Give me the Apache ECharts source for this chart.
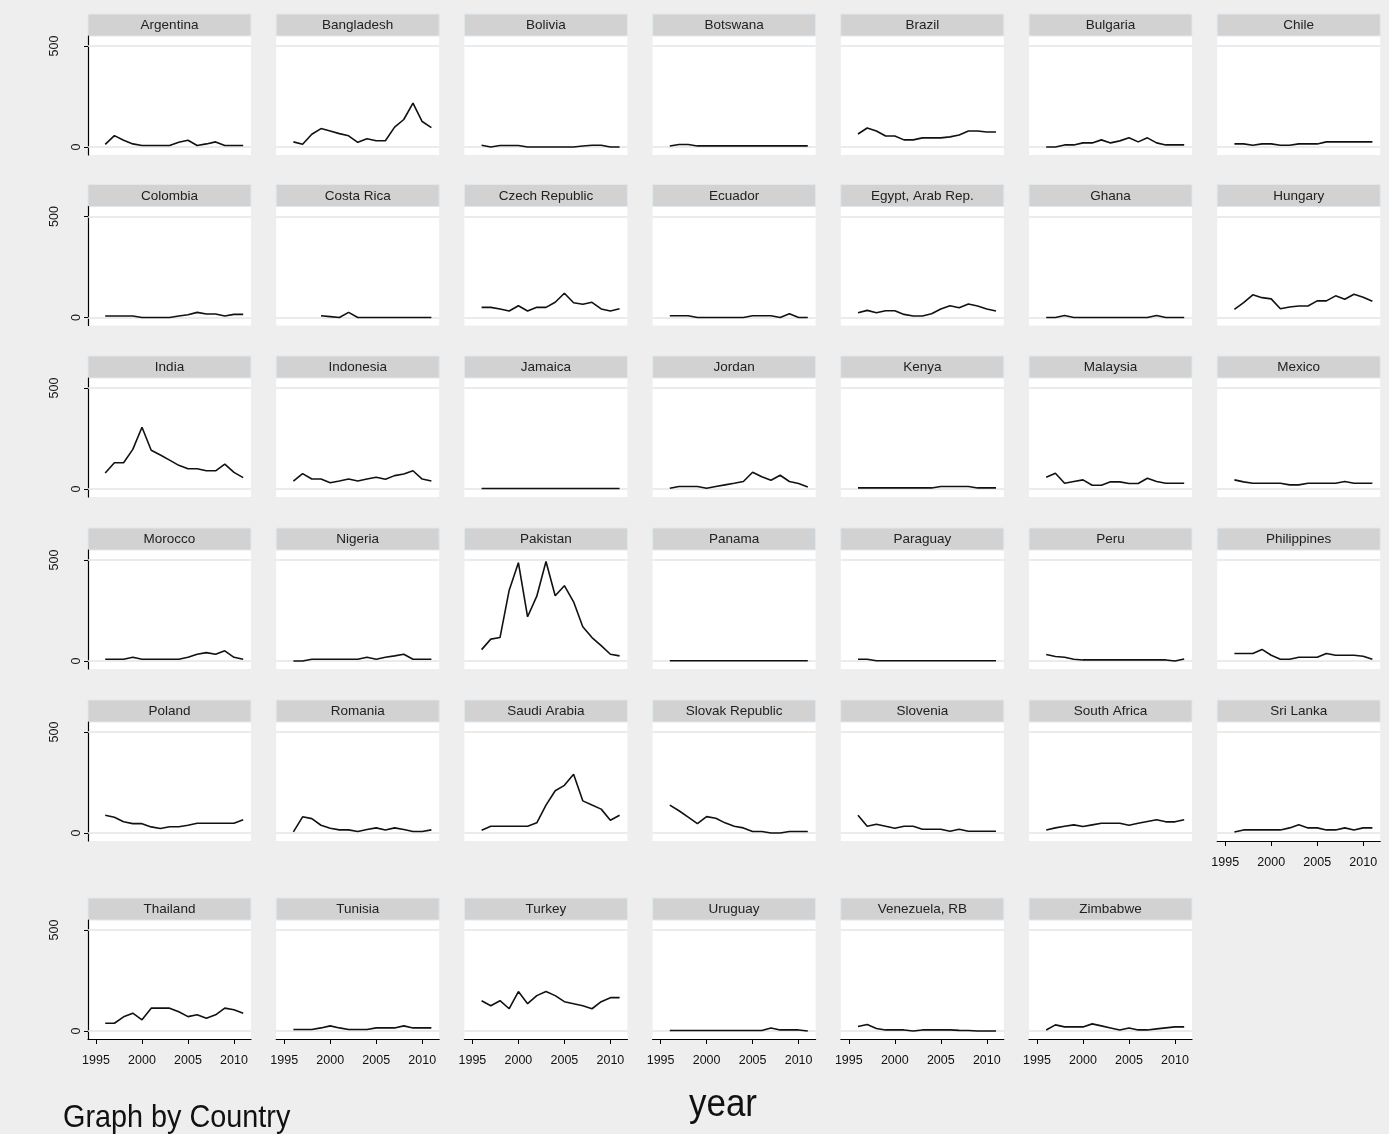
<!DOCTYPE html>
<html>
<head>
<meta charset="utf-8">
<script src="https://cdn.jsdelivr.net/npm/echarts@6/dist/echarts.min.js"></script>
<style>
  html, body { margin: 0; padding: 0; background: #eeeeee; }
  #main { width: 1389px; height: 1134px; }
</style>
</head>
<body>
<div id="main"></div>
<script>
// years on the x axis, one value per year for every country
const years = [1996, 1997, 1998, 1999, 2000, 2001, 2002, 2003, 2004, 2005, 2006, 2007, 2008, 2009, 2010, 2011];
const xTicks = [1995, 2000, 2005, 2010];
const yTicks = [0, 500];

const countries = [
  "Argentina", "Bangladesh", "Bolivia", "Botswana", "Brazil", "Bulgaria", "Chile",
  "Colombia", "Costa Rica", "Czech Republic", "Ecuador", "Egypt, Arab Rep.", "Ghana", "Hungary",
  "India", "Indonesia", "Jamaica", "Jordan", "Kenya", "Malaysia", "Mexico",
  "Morocco", "Nigeria", "Pakistan", "Panama", "Paraguay", "Peru", "Philippines",
  "Poland", "Romania", "Saudi Arabia", "Slovak Republic", "Slovenia", "South Africa", "Sri Lanka",
  "Thailand", "Tunisia", "Turkey", "Uruguay", "Venezuela, RB", "Zimbabwe"
];

const argentina = [13, 56, 33, 15, 7, 7, 7, 7, 23, 33, 7, 15, 25, 7, 7, 7];
const bangladesh = [25, 13, 63, 91, 79, 66, 55, 23, 41, 31, 31, 98, 136, 217, 126, 96];
const bolivia = [8, 0, 7, 7, 7, 0, 0, 0, 0, 0, 0, 5, 8, 8, 0, 0];
const botswana = [5, 12, 12, 5, 5, 5, 5, 5, 5, 5, 5, 5, 5, 5, 5, 5];
const brazil = [64, 94, 79, 54, 54, 35, 35, 45, 45, 45, 50, 59, 79, 79, 74, 74];
const bulgaria = [0, 0, 10, 10, 20, 20, 35, 20, 30, 45, 25, 45, 20, 10, 10, 10];
const chile = [15, 15, 8, 15, 15, 8, 8, 15, 15, 15, 25, 25, 25, 25, 25, 25];
const colombia = [7, 7, 7, 7, 0, 0, 0, 0, 7, 13, 25, 17, 17, 7, 15, 15];
const costaRica = [null, null, null, 8, 4, 0, 25, 0, 0, 0, 0, 0, 0, 0, 0, 0];
const czechRepublic = [50, 50, 42, 32, 58, 32, 50, 50, 75, 120, 73, 65, 75, 42, 32, 43];
const ecuador = [8, 8, 8, 0, 0, 0, 0, 0, 0, 8, 8, 8, 0, 18, 0, 0];
const egypt = [23, 35, 23, 33, 33, 15, 7, 7, 18, 42, 58, 48, 67, 57, 42, 32];
const ghana = [0, 0, 10, 0, 0, 0, 0, 0, 0, 0, 0, 0, 10, 0, 0, 0];
const hungary = [40, 73, 112, 98, 92, 43, 52, 57, 57, 82, 82, 107, 90, 115, 100, 80];
const india = [79, 130, 130, 196, 306, 192, 168, 143, 117, 100, 100, 90, 90, 123, 82, 56];
const indonesia = [39, 76, 49, 49, 31, 39, 49, 39, 49, 58, 48, 66, 74, 90, 49, 39];
const jamaica = [2, 2, 2, 2, 2, 2, 2, 2, 2, 2, 2, 2, 2, 2, 2, 2];
const jordan = [3, 12, 12, 12, 3, 12, 20, 28, 37, 83, 60, 43, 68, 37, 27, 10];
const kenya = [5, 5, 5, 5, 5, 5, 5, 5, 5, 12, 12, 12, 12, 5, 5, 5];
const malaysia = [58, 78, 28, 37, 45, 18, 18, 35, 35, 27, 27, 53, 37, 28, 28, 28];
const mexico = [45, 35, 28, 28, 28, 28, 20, 20, 28, 28, 28, 28, 37, 28, 28, 28];
const morocco = [8, 8, 8, 18, 8, 8, 8, 8, 8, 18, 33, 41, 33, 50, 18, 8];
const nigeria = [0, 0, 8, 8, 8, 8, 8, 8, 18, 8, 18, 25, 33, 8, 8, 8];
const pakistan = [56, 108, 116, 351, 487, 219, 321, 493, 323, 373, 293, 169, 116, 76, 33, 25];
const panama = [1, 1, 1, 1, 1, 1, 1, 1, 1, 1, 1, 1, 1, 1, 1, 1];
const paraguay = [8, 8, 1, 1, 1, 1, 1, 1, 1, 1, 1, 1, 1, 1, 1, 1];
const peru = [32, 22, 18, 8, 5, 5, 5, 5, 5, 5, 5, 5, 5, 5, 0, 10];
const philippines = [37, 37, 37, 57, 28, 8, 8, 18, 18, 18, 37, 28, 28, 28, 23, 8];
const poland = [88, 78, 55, 46, 46, 30, 22, 31, 31, 38, 48, 48, 48, 48, 48, 65];
const romania = [5, 80, 71, 38, 23, 15, 15, 7, 17, 25, 15, 25, 17, 7, 7, 15];
const saudiArabia = [13, 33, 33, 33, 33, 33, 50, 138, 209, 236, 291, 159, 138, 118, 63, 88];
const slovakRepublic = [138, 110, 78, 46, 81, 73, 50, 33, 25, 7, 7, 0, 0, 7, 7, 7];
const slovenia = [88, 33, 43, 33, 23, 33, 33, 18, 18, 18, 8, 18, 8, 8, 8, 8];
const southAfrica = [15, 25, 33, 40, 32, 40, 48, 48, 48, 38, 48, 57, 65, 55, 55, 65];
const sriLanka = [5, 15, 15, 15, 15, 15, 25, 40, 25, 25, 15, 15, 25, 15, 25, 25];
const thailand = [38, 38, 70, 88, 55, 113, 113, 113, 95, 71, 80, 63, 80, 113, 105, 88];
const tunisia = [7, 7, 7, 15, 25, 15, 7, 7, 7, 15, 15, 15, 25, 15, 15, 15];
const turkey = [150, 125, 150, 110, 195, 135, 175, 195, 175, 145, 135, 125, 110, 145, 165, 165];
const uruguay = [2, 2, 2, 2, 2, 2, 2, 2, 2, 2, 2, 15, 5, 5, 5, 0];
const venezuela = [22, 32, 12, 5, 5, 5, 0, 5, 5, 5, 5, 3, 2, 0, 0, 0];
const zimbabwe = [5, 30, 20, 20, 20, 35, 25, 15, 5, 15, 5, 5, 10, 15, 20, 20];

const countryValues = [
  argentina, bangladesh, bolivia, botswana, brazil, bulgaria, chile,
  colombia, costaRica, czechRepublic, ecuador, egypt, ghana, hungary,
  india, indonesia, jamaica, jordan, kenya, malaysia, mexico,
  morocco, nigeria, pakistan, panama, paraguay, peru, philippines,
  poland, romania, saudiArabia, slovakRepublic, slovenia, southAfrica, sriLanka,
  thailand, tunisia, turkey, uruguay, venezuela, zimbabwe
];

// panel layout
const font = '"Liberation Sans", Arial, sans-serif';
const panelW = 163, panelH = 119, headH = 22;
const rowTop = [36, 206.5, 378, 550, 722, 920];
const colLeft = (c) => 88 + c * 188.2;

let grids = [], xAxes = [], yAxes = [], series = [], graphics = [];

countries.forEach((name, i) => {
  const r = Math.floor(i / 7), c = i % 7;
  const left = colLeft(c), top = rowTop[r];
  const showX = i >= 34;
  const showY = c === 0;

  grids.push({
    left: left, top: top, width: panelW, height: panelH,
    show: true, backgroundColor: '#ffffff', borderWidth: 0
  });

  xAxes.push({
    gridIndex: i, type: 'value', min: 1994.13, max: 2011.85,
    axisLine: { show: showX, onZero: false, lineStyle: { color: '#000', width: 1.2 } },
    axisTick: { show: showX, customValues: xTicks, length: 5, lineStyle: { color: '#000' } },
    axisLabel: {
      show: showX, customValues: xTicks, margin: 15, fontSize: 12.5, color: '#111', fontFamily: font,
      formatter: (v) => String(v)
    },
    splitLine: { show: false }
  });

  yAxes.push({
    gridIndex: i, type: 'value', min: -40, max: 550,
    axisLine: { show: showY, onZero: false, lineStyle: { color: '#000', width: 1.2 } },
    axisTick: { show: showY, customValues: yTicks, length: 4, lineStyle: { color: '#000' } },
    axisLabel: {
      show: showY, customValues: yTicks, rotate: 90, margin: 5, color: '#111',
      fontSize: 12.5, fontFamily: font,
      formatter: (v) => (v === 500 ? '{a|500}' : '{b|0}'),
      rich: {
        a: { fontSize: 12.5, fontFamily: font, color: '#111', padding: [0, 0, 22, 0] },
        b: { fontSize: 12.5, fontFamily: font, color: '#111' }
      }
    },
    splitLine: { show: false }
  });

  const vals = countryValues[i];
  const pts = [];
  years.forEach((y, k) => { if (vals[k] !== null) pts.push([y, vals[k]]); });

  series.push({
    type: 'line', name: name, xAxisIndex: i, yAxisIndex: i,
    data: pts, symbol: 'none', z: 10,
    lineStyle: { color: '#111', width: 1.6 },
    markLine: {
      silent: true, symbol: 'none', label: { show: false },
      lineStyle: { color: '#e4e4e4', width: 1.5, type: 'solid' },
      data: yTicks.map((v) => ({ yAxis: v }))
    }
  });

  // strip header above each panel
  graphics.push({
    type: 'rect',
    shape: { x: left, y: top - headH, width: panelW, height: headH },
    style: { fill: '#d2d2d2', stroke: '#dde8f0', lineWidth: 1 }
  });
  graphics.push({
    type: 'text', x: left + panelW / 2, y: top - headH / 2 + 0.5,
    style: { text: name, font: '13.5px ' + font, fill: '#222', align: 'center', verticalAlign: 'middle' }
  });
});

graphics.push({
  type: 'text', x: 723, y: 1106, scaleX: 0.92,
  style: { text: 'year', font: '38px ' + font, fill: '#111', align: 'center', verticalAlign: 'middle' }
});
graphics.push({
  type: 'text', x: 63, y: 1118,
  scaleX: 0.9,
  style: { text: 'Graph by Country', font: '32px ' + font, fill: '#111', align: 'left', verticalAlign: 'middle' }
});

let myChart = echarts.init(document.getElementById('main'));
myChart.setOption({
  backgroundColor: '#eeeeee',
  animation: false,
  grid: grids,
  xAxis: xAxes,
  yAxis: yAxes,
  series: series,
  graphic: graphics
});
</script>
</body>
</html>
